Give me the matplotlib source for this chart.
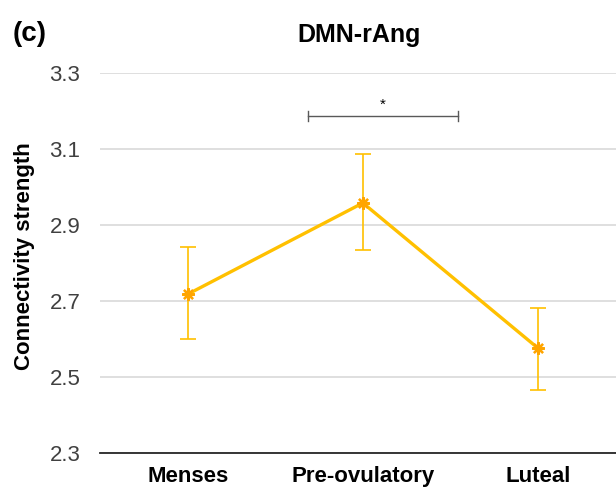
import matplotlib.pyplot as plt

plt.rcParams['font.family'] = ['Liberation Sans', 'DejaVu Sans']

phases = ['Menses', 'Pre-ovulatory', 'Luteal']
strength = [2.718, 2.958, 2.576]
err_upper = [0.124, 0.129, 0.106]
err_lower = [0.118, 0.124, 0.110]
yticks = [2.3, 2.5, 2.7, 2.9, 3.1, 3.3]

gold = '#FFC000'

fig = plt.figure(figsize=(6.16, 4.9), dpi=100)
ax = fig.add_axes([0.162, 0.0755, 0.838, 0.7755])

x = list(range(len(phases)))
ax.errorbar(x, strength, yerr=[err_lower, err_upper], fmt='none',
            ecolor=gold, elinewidth=1.2, capsize=6, capthick=1.2, zorder=2)
ax.plot(x, strength, color=gold, linewidth=2.4, zorder=3)
ax.plot(x, strength, linestyle='none', marker=(8, 2, 0), markersize=9,
        markeredgecolor='#FFA500', markeredgewidth=1.6, zorder=4)
ax.plot(x, strength, linestyle='none', marker='o', markersize=5,
        color='#FFA500', zorder=5)

# significance bracket
bx0, bx1, by = 0.686, 1.543, 3.187
ax.plot([bx0, bx1], [by, by], color='#595959', linewidth=1.0)
ax.plot([bx0, bx0], [by - 0.012, by + 0.012], color='#595959', linewidth=1.0)
ax.plot([bx1, bx1], [by - 0.012, by + 0.012], color='#595959', linewidth=1.0)
ax.text((bx0 + bx1) / 2, by + 0.01, '*', ha='center', va='bottom', fontsize=11)

ax.set_xlim(-0.503, 2.446)
ax.set_ylim(2.3, 3.3)
ax.set_yticks(yticks)
ax.set_yticklabels([f'{v:.1f}' for v in yticks], fontsize=16, color='#404040')
ax.set_xticks(x)
ax.set_xticklabels(phases, fontsize=16, fontweight='bold')
ax.tick_params(axis='both', length=0)
ax.tick_params(axis='x', pad=9)
ax.tick_params(axis='y', pad=14)
ax.grid(axis='y', color='#d9d9d9', linewidth=1.2)
ax.set_axisbelow(True)
for s in ['top', 'right', 'left']:
    ax.spines[s].set_visible(False)
ax.spines['bottom'].set_color('#262626')
ax.spines['bottom'].set_linewidth(1.3)

fig.text(0.039, 0.478, 'Connectivity strength', rotation=90, ha='center', va='center',
         fontsize=16, fontweight='bold')
fig.text(0.583, 0.928, 'DMN-rAng', ha='center', va='center', fontsize=18, fontweight='bold')
fig.text(0.02, 0.93, '(c)', ha='left', va='center', fontsize=20, fontweight='bold')

fig.savefig('out.png', dpi=100)
